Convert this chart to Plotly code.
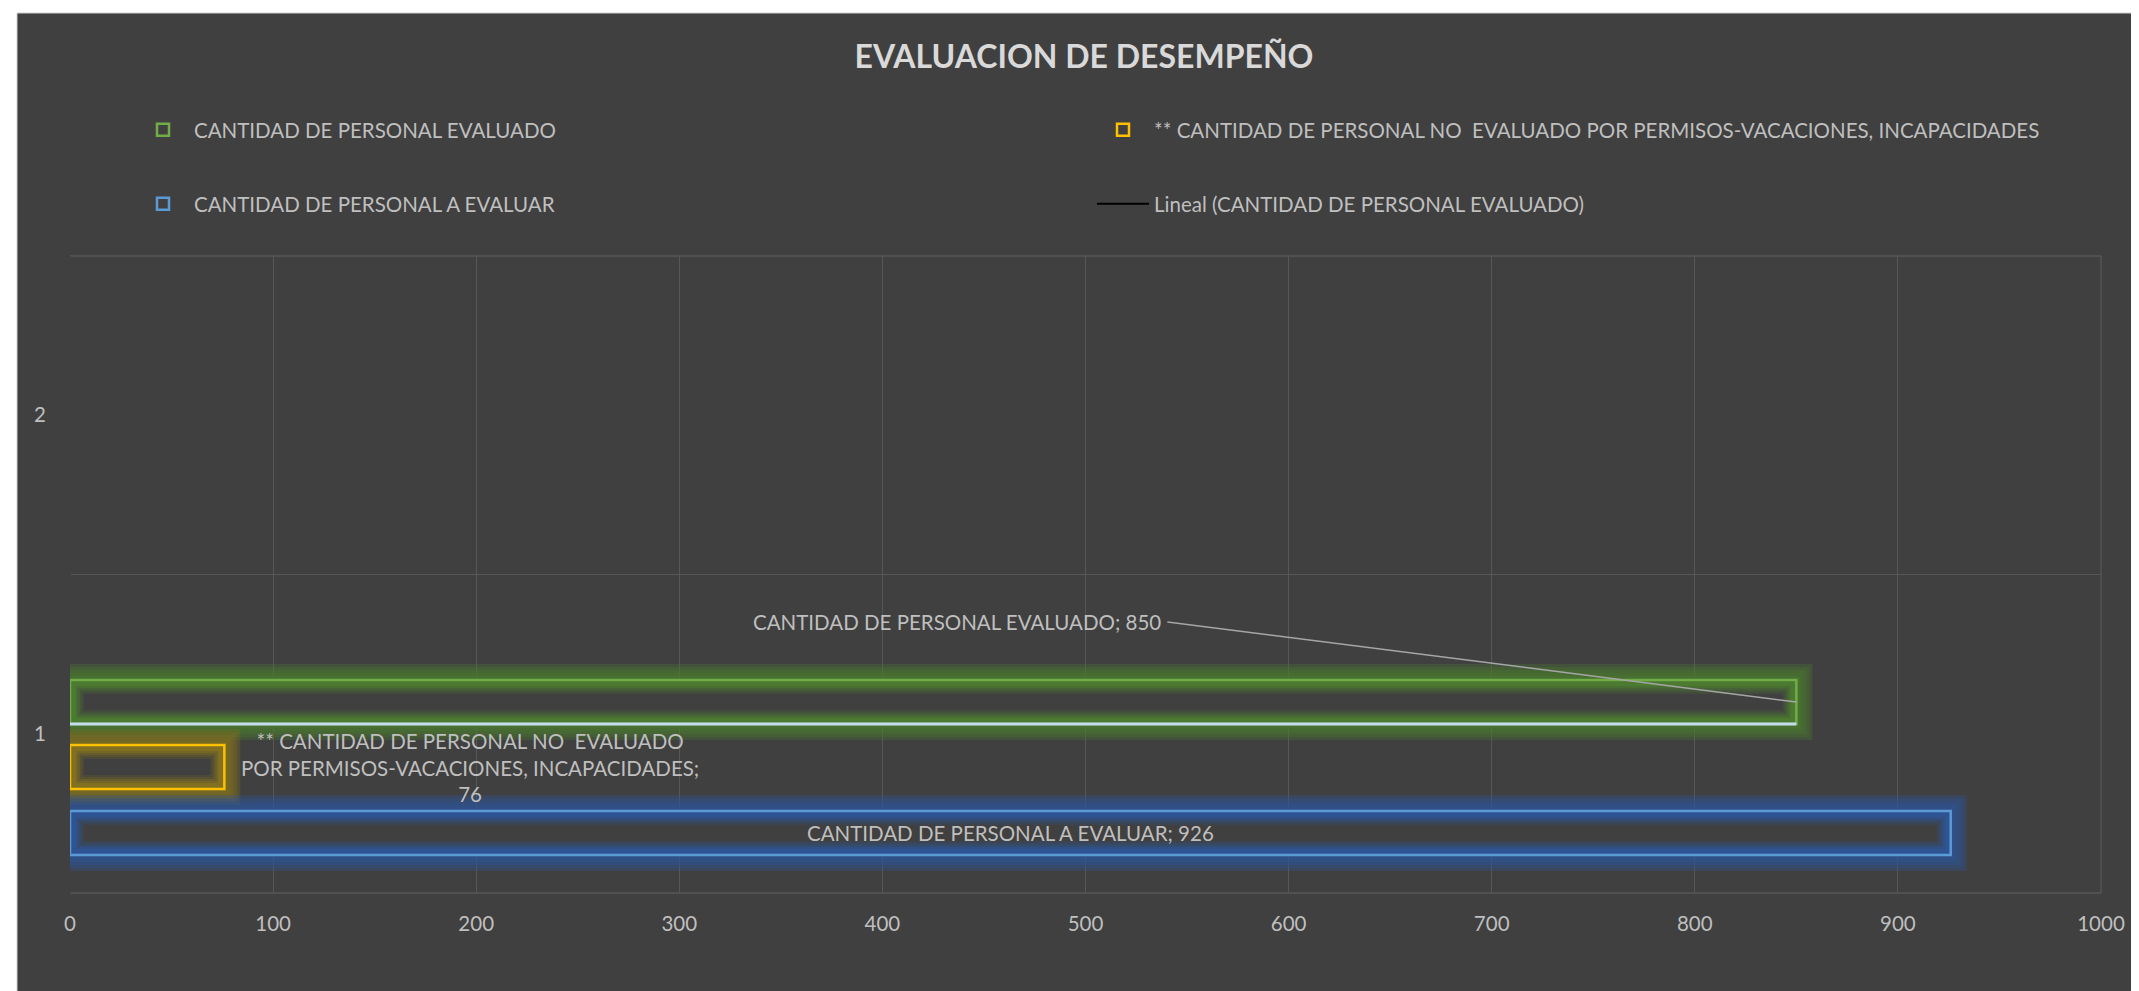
import plotly.graph_objects as go

# ---------------- data ----------------
categories = ["1", "2"]
category_positions = [1, 2]
series_names = [
    "CANTIDAD DE PERSONAL EVALUADO",
    "** CANTIDAD DE PERSONAL NO\u00a0 EVALUADO POR PERMISOS-VACACIONES, INCAPACIDADES",
    "CANTIDAD DE PERSONAL A EVALUAR",
]
series_values = [850, 76, 926]
series_category = [1, 1, 1]
trend_name = "Lineal (CANTIDAD DE PERSONAL EVALUADO)"
x_tick_values = [0, 100, 200, 300, 400, 500, 600, 700, 800, 900, 1000]

# ---------------- style ----------------
# the page body adds an 8px margin, so the figure is 8px smaller than the window
W, H = 2131, 983
ML, MR, MT, MB = 62, 38, 248, 98
PW, PH = W - ML - MR, H - MT - MB
PX_X = PW / 1000.0
PX_Y = PH / 2.0
FONT = "Lato"
FS = 20.5
TXT = "#bfbfbf"
BG = "#404040"
GRID = "#575757"

center_offsets = [0.0997, -0.1044, -0.312]
bar_half_px = 22
outline_colors = ["#70ad47", "#ffc000", "#5b9bd5"]
glow_rgb = [(75, 122, 48), (128, 112, 32), (46, 84, 148)]
legend_ids = ["legend", "legend", "legend2"]


def px_to_paper_x(px):
    return (px - ML) / PW


def px_to_paper_y(py):
    return (H - MB - py) / PH


fig = go.Figure()


def layer(y, x_start, x_len, off, width, color, line_color=None, line_w=0, **kw):
    return go.Bar(
        orientation="h", y=[y], x=[x_len], base=[x_start], width=[width], offset=[off],
        marker=dict(color=color, line=dict(color=line_color or color, width=line_w)),
        hoverinfo="skip", **kw)


for i, (name, val, cat) in enumerate(zip(series_names, series_values, series_category)):
    c = cat + center_offsets[i]
    r, g, b = glow_rgb[i]
    # outer glow
    for e in [16, 13, 10, 7, 4, 1]:
        h = (bar_half_px + e) / PX_Y
        fig.add_trace(layer(cat, -e / PX_X, val + 2 * e / PX_X, c - cat - h, 2 * h,
                            f"rgba({r},{g},{b},0.32)", showlegend=False))
    # glow body
    h = bar_half_px / PX_Y
    fig.add_trace(layer(cat, 0, val, c - cat - h, 2 * h, f"rgb({r},{g},{b})", showlegend=False))
    # inner fade to background
    for ins, a in [(6, 0.2), (8, 0.25), (10, 0.33), (12, 0.5), (14, 1.0)]:
        hi = (bar_half_px - ins) / PX_Y
        fig.add_trace(layer(cat, ins / PX_X, val - 2 * ins / PX_X, c - cat - hi, 2 * hi,
                            f"rgba(64,64,64,{a})", showlegend=False))
    # main outlined bar (legend entry)
    kw = dict(name=name, showlegend=True, legend=legend_ids[i])
    if i == 2:
        kw.update(text=[f"{name}; {val}"], textposition="inside", insidetextanchor="middle",
                  textangle=0, constraintext="none",
                  insidetextfont=dict(family=FONT, size=FS, color=TXT))
    fig.add_trace(layer(cat, 0, val, c - cat - h, 2 * h, "rgba(0,0,0,0)",
                        line_color=outline_colors[i], line_w=2.5, **kw))
    if i == 0:
        # light lower edge of the evaluated bar
        fig.add_trace(layer(cat, 0, val, c - cat - h - 1.5 / PX_Y, 3 / PX_Y, "#c5dcee",
                            showlegend=False))

# trendline entry (single point -> no visible line)
fig.add_trace(go.Scatter(x=[series_values[0]], y=[series_category[0]], mode="lines",
                         line=dict(color="#000000", width=2), name=trend_name,
                         legend="legend2", hoverinfo="skip"))

# data labels
fig.add_annotation(
    x=series_values[0], y=series_category[0] + center_offsets[0], xref="x", yref="y",
    text=f"{series_names[0]}; {series_values[0]}", showarrow=True, arrowhead=0,
    arrowwidth=1.5, arrowcolor="#a6a6a6", ax=-629, ay=-80, xanchor="right", yanchor="middle",
    borderpad=5, font=dict(family=FONT, size=FS, color=TXT), standoff=0)
fig.add_annotation(
    x=series_values[1], y=series_category[1] + center_offsets[1], xref="x", yref="y",
    text="** CANTIDAD DE PERSONAL NO\u00a0 EVALUADO<br>POR PERMISOS-VACACIONES, INCAPACIDADES;<br>"
         + str(series_values[1]),
    showarrow=False, xanchor="left", yanchor="middle", xshift=15, align="center",
    font=dict(family=FONT, size=FS, color=TXT))

# chart area background with white page margin
fig.add_shape(type="rect", xref="paper", yref="paper", layer="below",
              x0=px_to_paper_x(9), x1=px_to_paper_x(W + 5),
              y0=px_to_paper_y(H + 5), y1=px_to_paper_y(5),
              fillcolor=BG, line=dict(color="#d0d0d0", width=1))
# plot-area frame lines (top, right, bottom)
for x0, y0, x1, y1 in [(0, 1, 1, 1), (1, 0, 1, 1), (0, 0, 1, 0)]:
    fig.add_shape(type="line", xref="paper", yref="paper", layer="below",
                  x0=x0, y0=y0, x1=x1, y1=y1, line=dict(color=GRID, width=1.3))

legend_common = dict(orientation="h", xanchor="left", yanchor="middle", entrywidth=893,
                     entrywidthmode="pixels", itemwidth=52, bgcolor="rgba(0,0,0,0)",
                     font=dict(family=FONT, size=FS, color=TXT), traceorder="normal")

fig.update_layout(
    width=W, height=H, margin=dict(l=ML, r=MR, t=MT, b=MB, autoexpand=False),
    paper_bgcolor="#ffffff", plot_bgcolor=BG, barmode="overlay",
    font=dict(family=FONT, size=FS, color=TXT),
    title=dict(text="<b>EVALUACION DE DESEMPEÑO</b>", x=1076 / W, xanchor="center",
               y=1 - 49 / H, yanchor="middle", font=dict(family=FONT, size=32, color="#d9d9d9")),
    legend=dict(x=px_to_paper_x(124), y=px_to_paper_y(122), **legend_common),
    legend2=dict(x=px_to_paper_x(124), y=px_to_paper_y(196), **legend_common),
    xaxis=dict(range=[0, 1000], tickvals=x_tick_values, showgrid=True, gridcolor=GRID,
               gridwidth=1.3, zeroline=True, zerolinecolor=BG, zerolinewidth=2,
               showline=False, ticks="", ticklabelstandoff=16,
               tickfont=dict(family=FONT, size=FS, color=TXT), fixedrange=True),
    yaxis=dict(range=[0.5, 2.5], tickvals=category_positions, ticktext=categories,
               showgrid=False, zeroline=False, showline=False, ticks="",
               ticklabelstandoff=23, tickfont=dict(family=FONT, size=FS, color=TXT),
               minor=dict(tickvals=[0.5, 1.5, 2.5], showgrid=True, gridcolor=GRID,
                          gridwidth=1.3, ticks=""), fixedrange=True),
)

fig.write_html("out.html")
